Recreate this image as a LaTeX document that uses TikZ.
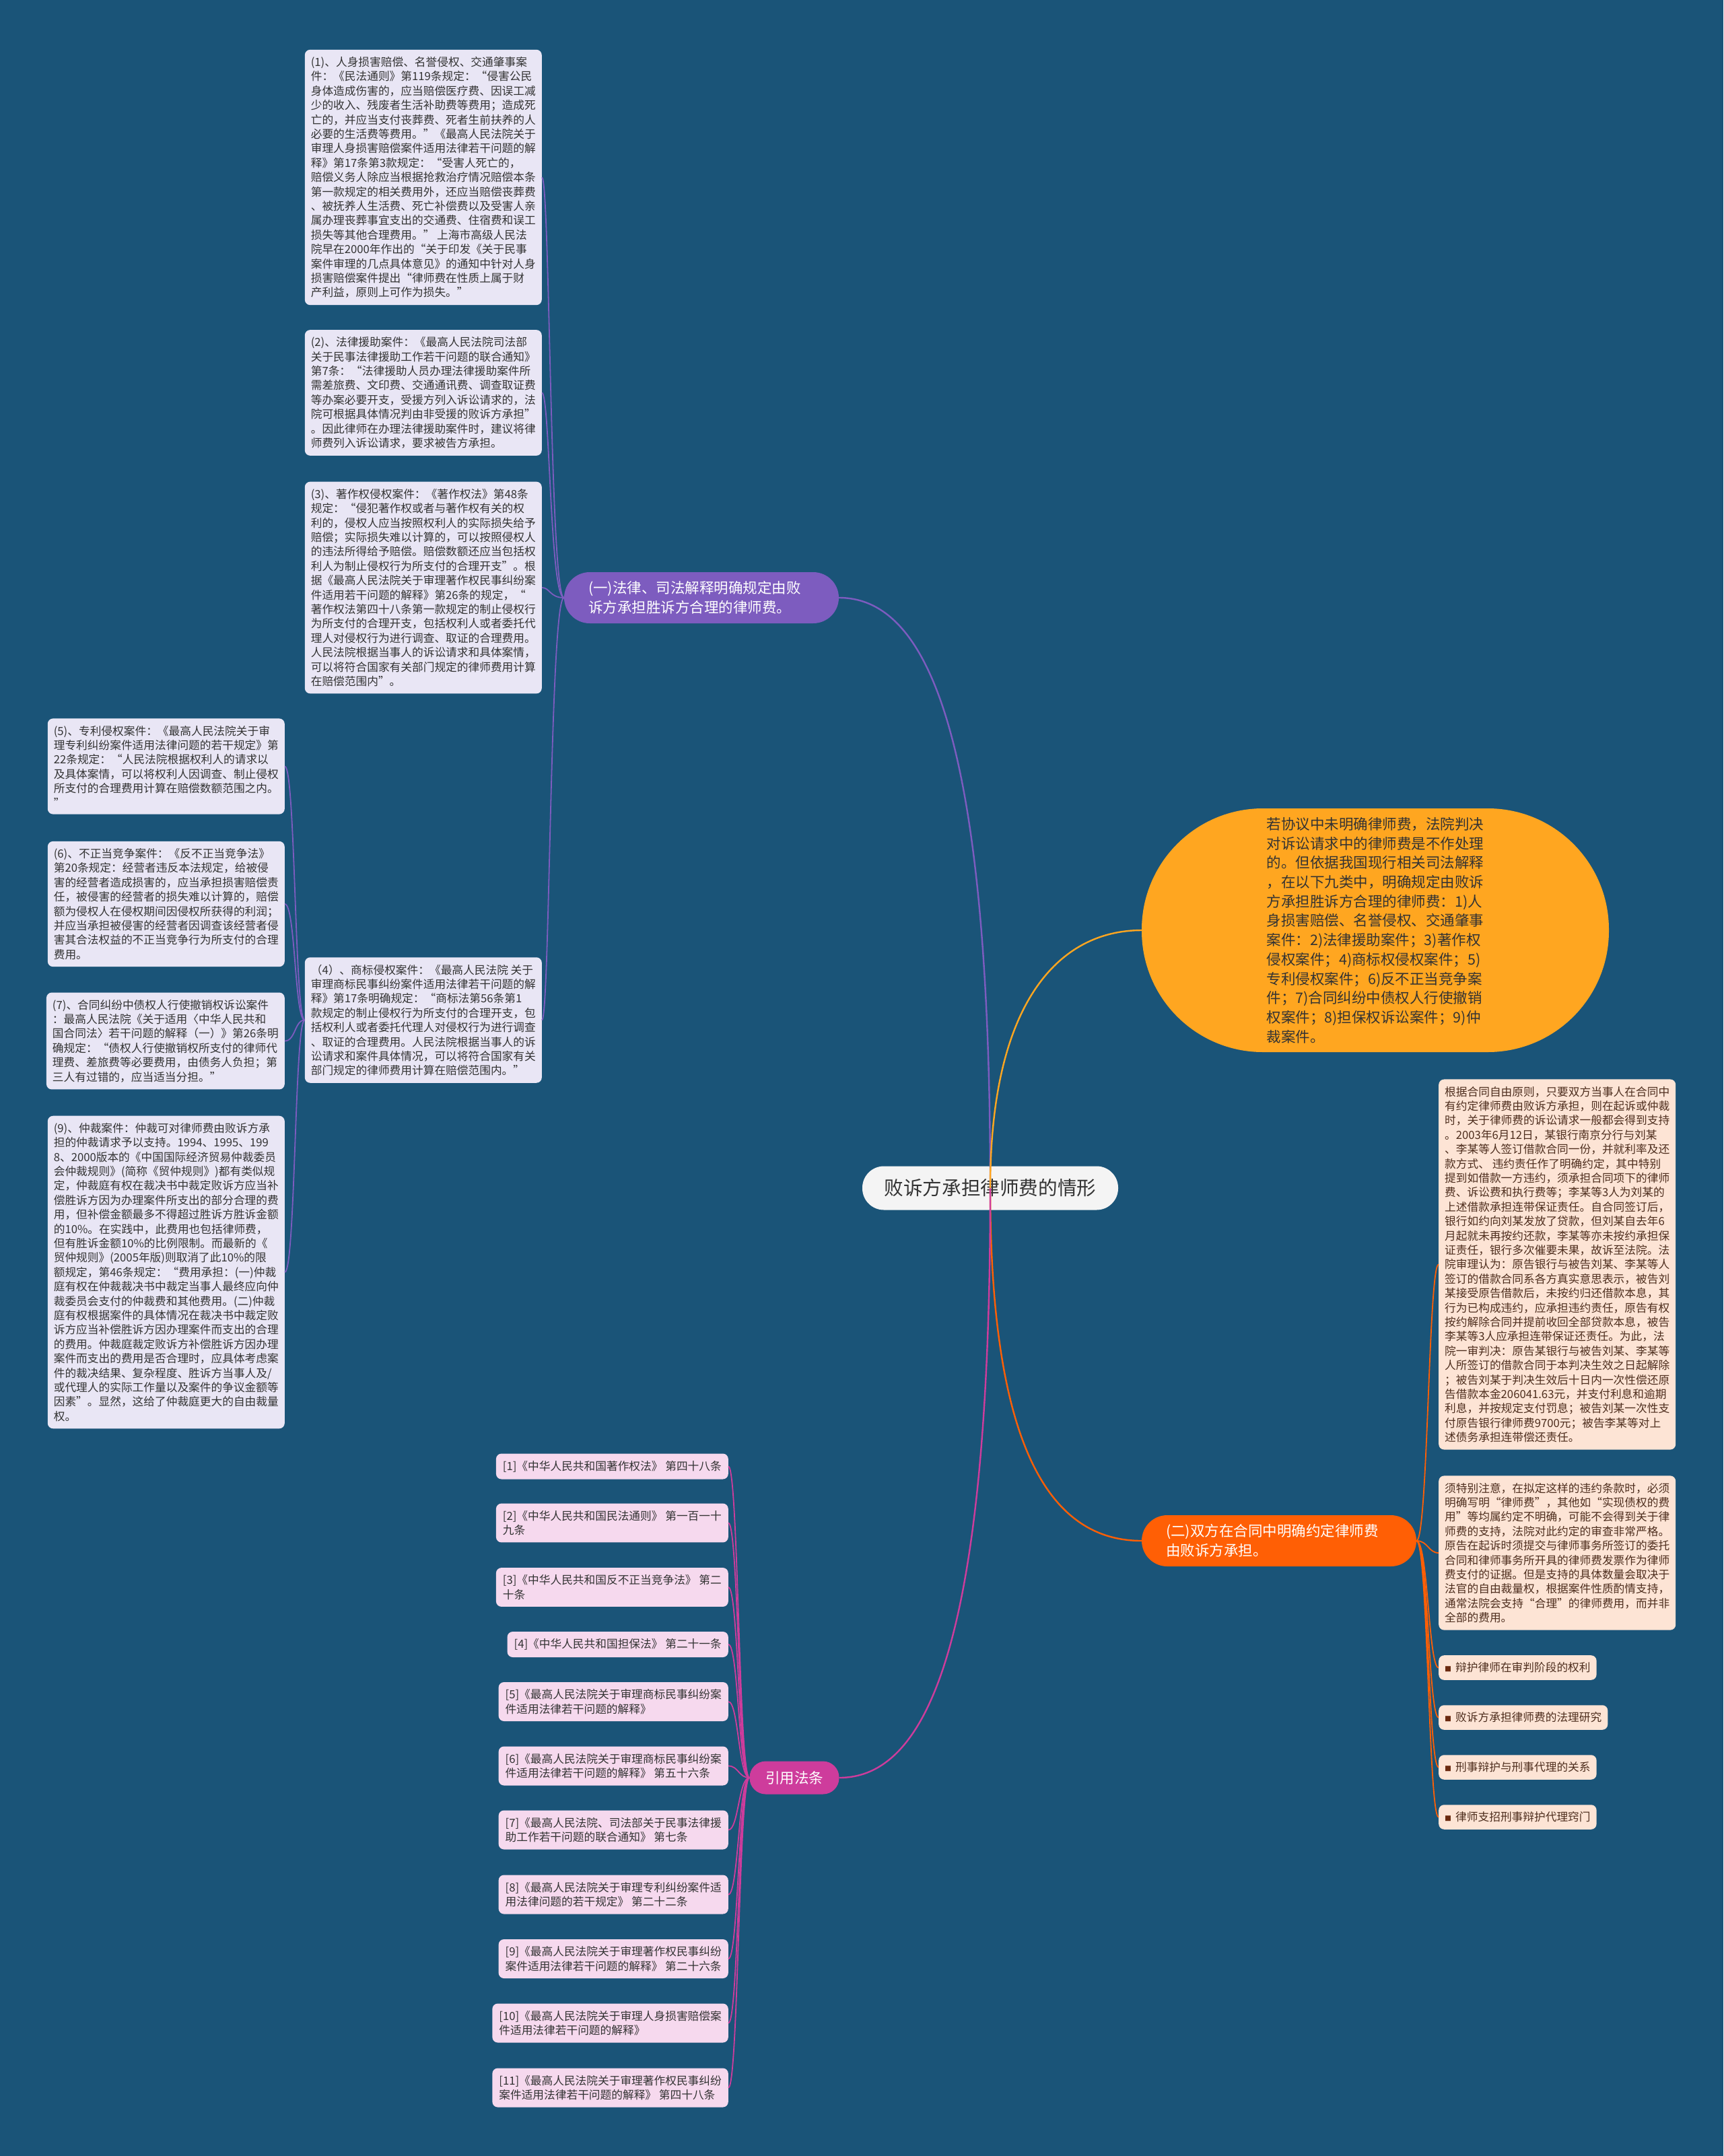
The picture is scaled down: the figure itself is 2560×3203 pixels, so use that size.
\documentclass[tikz,border=0pt]{standalone}
\usepackage{fontspec}
\newfontfamily\cjk{Noto Sans CJK SC}
\definecolor{cfond}{HTML}{1A5478}
\definecolor{cracine}{HTML}{F4F4F4}
\definecolor{cviolet}{HTML}{7D5CBF}
\definecolor{corange}{HTML}{FFA620}
\definecolor{crouge}{HTML}{FF5F05}
\definecolor{crose}{HTML}{CE3C9C}
\definecolor{clavande}{HTML}{E9E6F5}
\definecolor{cpeche}{HTML}{FDE4D5}
\definecolor{cpale}{HTML}{F6D9EE}
\definecolor{ctexte}{HTML}{333333}
\definecolor{cbrun}{HTML}{4E2E1E}
\definecolor{cpuce}{HTML}{6B2A10}
\tikzset{
  racine/.style={fill=cracine, text=ctexte, rounded corners=32pt, minimum width=380pt,
    minimum height=65pt, font=\cjk\fontsize{28.6}{34}\selectfont},
  branche/.style={rounded corners=38pt, minimum height=76pt, text=white, align=left,
    text width=336pt, inner xsep=36pt, font=\cjk\fontsize{21.5}{28.7}\selectfont},
  boite/.style={rounded corners=8pt, align=left, inner xsep=9pt, inner ysep=10.5pt,
    font=\cjk\fontsize{16.7}{21.4}\selectfont},
  gauche/.style={boite, fill=clavande, text=ctexte, anchor=east},
  droite/.style={boite, fill=cpeche, text=cbrun, anchor=west},
  citation/.style={boite, fill=cpale, text=ctexte, anchor=east, inner xsep=10pt},
  lien/.style={line width=2.4pt},
  sous/.style={line width=1.8pt}
}
\def\puce{{\color{cpuce}\fontsize{10}{10}\selectfont■}\hspace{6pt}}
\begin{document}
\begin{tikzpicture}[x=1pt,y=-1pt]
\useasboundingbox (0,0) rectangle (2560,3203);
% Fond
\fill[cfond] (0,0) rectangle (2560,3203);
% Centre
\node[racine] (root) at (1471,1765) {败诉方承担律师费的情形};
% Branches
\node[branche, fill=cviolet] (law) at (1042,888) {(一)法律、司法解释明确规定由败\\诉方承担胜诉方合理的律师费。};
\node[fill=corange, text=ctexte, rounded corners=180pt, minimum width=694pt, minimum height=362pt,
  align=left, font=\cjk\fontsize{21.5}{28.7}\selectfont] (nine) at (2043,1382)
  {若协议中未明确律师费，法院判决\\对诉讼请求中的律师费是不作处理\\的。但依据我国现行相关司法解释\\，在以下九类中，明确规定由败诉\\方承担胜诉方合理的律师费：1)人\\身损害赔偿、名誉侵权、交通肇事\\案件：2)法律援助案件；3)著作权\\侵权案件；4)商标权侵权案件；5)\\专利侵权案件；6)反不正当竞争案\\件；7)合同纠纷中债权人行使撤销\\权案件；8)担保权诉讼案件；9)仲\\裁案件。};
\node[branche, fill=crouge] (contract) at (1900,2289) {(二)双方在合同中明确约定律师费\\由败诉方承担。};
\node[fill=crose, text=white, rounded corners=24pt, minimum width=133pt, minimum height=49pt,
  font=\cjk\fontsize{21.5}{26}\selectfont] (cite) at (1180,2641) {引用法条};
% Cas (1) a (4)
\node[gauche] (b1) at (805,263.5) {(1)、人身损害赔偿、名誉侵权、交通肇事案\\件：《民法通则》第119条规定：“侵害公民\\身体造成伤害的，应当赔偿医疗费、因误工减\\少的收入、残废者生活补助费等费用；造成死\\亡的，并应当支付丧葬费、死者生前扶养的人\\必要的生活费等费用。”《最高人民法院关于\\审理人身损害赔偿案件适用法律若干问题的解\\释》第17条第3款规定：“受害人死亡的，\\赔偿义务人除应当根据抢救治疗情况赔偿本条\\第一款规定的相关费用外，还应当赔偿丧葬费\\、被抚养人生活费、死亡补偿费以及受害人亲\\属办理丧葬事宜支出的交通费、住宿费和误工\\损失等其他合理费用。” 上海市高级人民法\\院早在2000年作出的“关于印发《关于民事\\案件审理的几点具体意见》的通知中针对人身\\损害赔偿案件提出“律师费在性质上属于财\\产利益，原则上可作为损失。”};
\node[gauche] (b2) at (805,583.5) {(2)、法律援助案件：《最高人民法院司法部\\关于民事法律援助工作若干问题的联合通知》\\第7条：“法律援助人员办理法律援助案件所\\需差旅费、文印费、交通通讯费、调查取证费\\等办案必要开支，受援方列入诉讼请求的，法\\院可根据具体情况判由非受援的败诉方承担”\\。因此律师在办理法律援助案件时，建议将律\\师费列入诉讼请求，要求被告方承担。};
\node[gauche] (b3) at (805,873) {(3)、著作权侵权案件：《著作权法》第48条\\规定：“侵犯著作权或者与著作权有关的权\\利的，侵权人应当按照权利人的实际损失给予\\赔偿；实际损失难以计算的，可以按照侵权人\\的违法所得给予赔偿。赔偿数额还应当包括权\\利人为制止侵权行为所支付的合理开支”。根\\据《最高人民法院关于审理著作权民事纠纷案\\件适用若干问题的解释》第26条的规定，“\\著作权法第四十八条第一款规定的制止侵权行\\为所支付的合理开支，包括权利人或者委托代\\理人对侵权行为进行调查、取证的合理费用。\\人民法院根据当事人的诉讼请求和具体案情，\\可以将符合国家有关部门规定的律师费用计算\\在赔偿范围内”。};
\node[gauche] (b4) at (805,1515.5) {（4）、商标侵权案件：《最高人民法院 关于\\审理商标民事纠纷案件适用法律若干问题的解\\释》第17条明确规定：“商标法第56条第1\\款规定的制止侵权行为所支付的合理开支，包\\括权利人或者委托代理人对侵权行为进行调查\\、取证的合理费用。人民法院根据当事人的诉\\讼请求和案件具体情况，可以将符合国家有关\\部门规定的律师费用计算在赔偿范围内。”};
% Cas (5) a (9)
\node[gauche] (b5) at (423,1138.5) {(5)、专利侵权案件：《最高人民法院关于审\\理专利纠纷案件适用法律问题的若干规定》第\\22条规定：“人民法院根据权利人的请求以\\及具体案情，可以将权利人因调查、制止侵权\\所支付的合理费用计算在赔偿数额范围之内。\\”};
\node[gauche] (b6) at (423,1343) {(6)、不正当竞争案件：《反不正当竞争法》\\第20条规定：经营者违反本法规定，给被侵\\害的经营者造成损害的，应当承担损害赔偿责\\任，被侵害的经营者的损失难以计算的，赔偿\\额为侵权人在侵权期间因侵权所获得的利润；\\并应当承担被侵害的经营者因调查该经营者侵\\害其合法权益的不正当竞争行为所支付的合理\\费用。};
\node[gauche] (b7) at (423,1546.5) {(7)、合同纠纷中债权人行使撤销权诉讼案件\\：最高人民法院《关于适用〈中华人民共和\\国合同法〉若干问题的解释（一）》第26条明\\确规定：“债权人行使撤销权所支付的律师代\\理费、差旅费等必要费用，由债务人负担；第\\三人有过错的，应当适当分担。”};
\node[gauche] (b9) at (423,1890) {(9)、仲裁案件：仲裁可对律师费由败诉方承\\担的仲裁请求予以支持。1994、1995、199\\8、2000版本的《中国国际经济贸易仲裁委员\\会仲裁规则》(简称《贸仲规则》)都有类似规\\定，仲裁庭有权在裁决书中裁定败诉方应当补\\偿胜诉方因为办理案件所支出的部分合理的费\\用，但补偿金额最多不得超过胜诉方胜诉金额\\的10\%。在实践中，此费用也包括律师费，\\但有胜诉金额10\%的比例限制。而最新的《\\贸仲规则》(2005年版)则取消了此10\%的限\\额规定，第46条规定：“费用承担：(一)仲裁\\庭有权在仲裁裁决书中裁定当事人最终应向仲\\裁委员会支付的仲裁费和其他费用。(二)仲裁\\庭有权根据案件的具体情况在裁决书中裁定败\\诉方应当补偿胜诉方因办理案件而支出的合理\\的费用。仲裁庭裁定败诉方补偿胜诉方因办理\\案件而支出的费用是否合理时，应具体考虑案\\件的裁决结果、复杂程度、胜诉方当事人及/\\或代理人的实际工作量以及案件的争议金额等\\因素”。显然，这给了仲裁庭更大的自由裁量\\权。};
% Contrat
\node[droite] (r1) at (2137,1878.5) {根据合同自由原则，只要双方当事人在合同中\\有约定律师费由败诉方承担，则在起诉或仲裁\\时，关于律师费的诉讼请求一般都会得到支持\\。2003年6月12日，某银行南京分行与刘某\\、李某等人签订借款合同一份，并就利率及还\\款方式、 违约责任作了明确约定，其中特别\\提到如借款一方违约，须承担合同项下的律师\\费、诉讼费和执行费等；李某等3人为刘某的\\上述借款承担连带保证责任。自合同签订后，\\银行如约向刘某发放了贷款，但刘某自去年6\\月起就未再按约还款，李某等亦未按约承担保\\证责任，银行多次催要未果，故诉至法院。法\\院审理认为：原告银行与被告刘某、李某等人\\签订的借款合同系各方真实意思表示，被告刘\\某接受原告借款后，未按约归还借款本息，其\\行为已构成违约，应承担违约责任，原告有权\\按约解除合同并提前收回全部贷款本息，被告\\李某等3人应承担连带保证还责任。为此，法\\院一审判决：原告某银行与被告刘某、李某等\\人所签订的借款合同于本判决生效之日起解除\\；被告刘某于判决生效后十日内一次性偿还原\\告借款本金206041.63元，并支付利息和逾期\\利息，并按规定支付罚息；被告刘某一次性支\\付原告银行律师费9700元；被告李某等对上\\述债务承担连带偿还责任。};
\node[droite] (r2) at (2137,2307) {须特别注意，在拟定这样的违约条款时，必须\\明确写明“律师费”，其他如“实现债权的费\\用”等均属约定不明确，可能不会得到关于律\\师费的支持，法院对此约定的审查非常严格。\\原告在起诉时须提交与律师事务所签订的委托\\合同和律师事务所开具的律师费发票作为律师\\费支付的证据。但是支持的具体数量会取决于\\法官的自由裁量权，根据案件性质酌情支持，\\通常法院会支持“合理”的律师费用，而并非\\全部的费用。};
\node[droite] (s1) at (2137,2477.5) {\puce 辩护律师在审判阶段的权利};
\node[droite] (s2) at (2137,2551.5) {\puce 败诉方承担律师费的法理研究};
\node[droite] (s3) at (2137,2625.5) {\puce 刑事辩护与刑事代理的关系};
\node[droite] (s4) at (2137,2699.5) {\puce 律师支招刑事辩护代理窍门};
% Textes cites
\node[citation] (c1) at (1082,2178.5) {[1]《中华人民共和国著作权法》 第四十八条};
\node[citation] (c2) at (1082,2262.5) {[2]《中华人民共和国民法通则》 第一百一十\\九条};
\node[citation] (c3) at (1082,2358) {[3]《中华人民共和国反不正当竞争法》 第二\\十条};
\node[citation] (c4) at (1082,2443) {[4]《中华人民共和国担保法》 第二十一条};
\node[citation] (c5) at (1082,2528) {[5]《最高人民法院关于审理商标民事纠纷案\\件适用法律若干问题的解释》};
\node[citation] (c6) at (1082,2623.5) {[6]《最高人民法院关于审理商标民事纠纷案\\件适用法律若干问题的解释》 第五十六条};
\node[citation] (c7) at (1082,2718.5) {[7]《最高人民法院、司法部关于民事法律援\\助工作若干问题的联合通知》 第七条};
\node[citation] (c8) at (1082,2814.5) {[8]《最高人民法院关于审理专利纠纷案件适\\用法律问题的若干规定》 第二十二条};
\node[citation] (c9) at (1082,2910) {[9]《最高人民法院关于审理著作权民事纠纷\\案件适用法律若干问题的解释》 第二十六条};
\node[citation] (c10) at (1082,3005.5) {[10]《最高人民法院关于审理人身损害赔偿案\\件适用法律若干问题的解释》};
\node[citation] (c11) at (1082,3101.5) {[11]《最高人民法院关于审理著作权民事纠纷\\案件适用法律若干问题的解释》 第四十八条};
% Liens
\draw[lien, cviolet] (root.center) .. controls +(0,-665) and +(134,0) .. (law.east);
\draw[lien, corange] (root.center) .. controls +(0,-280) and +(-120,0) .. (nine.west);
\draw[lien, crouge] (root.center) .. controls +(0,385) and +(-136,0) .. (contract.west);
\draw[lien, crose] (root.center) .. controls +(0,665) and +(134,0) .. (cite.east);
\foreach \n in {b1,b2,b3,b4}
  \draw[sous, cviolet] (law.west) .. controls +(-21,0) and +(12,0) .. (\n.east);
\foreach \n in {b5,b6,b7,b9}
  \draw[sous, cviolet] (b4.west) .. controls +(-15,0) and +(16,0) .. (\n.east);
\foreach \n in {r1,r2,s1,s2,s3,s4}
  \draw[sous, crouge] (contract.east) .. controls +(17,0) and +(-15,0) .. (\n.west);
\foreach \n in {1,...,11}
  \draw[sous, crose] (cite.west) .. controls +(-16,0) and +(15,0) .. (c\n.east);
\end{tikzpicture}
\end{document}
